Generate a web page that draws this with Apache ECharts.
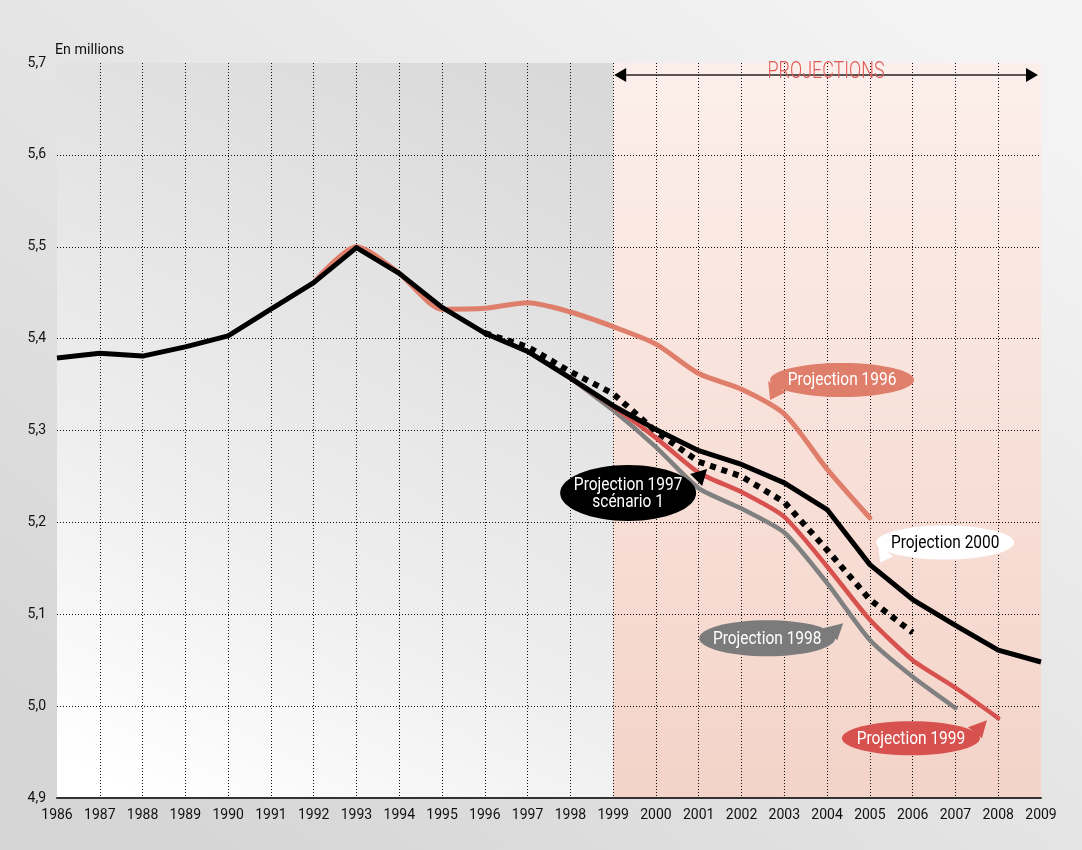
<!DOCTYPE html>
<html><head><meta charset="utf-8">
<script src="https://cdn.jsdelivr.net/npm/echarts/dist/echarts.min.js"></script>
<style>html,body{margin:0;padding:0;background:#e4e4e4}#c{width:1082px;height:850px}</style>
</head><body><div id="c"></div>
<script>
const years = [1986,1987,1988,1989,1990,1991,1992,1993,1994,1995,1996,1997,1998,1999,2000,2001,2002,2003,2004,2005,2006,2007,2008,2009];
// Observed + Projection 2000
const proj2000 = [5.379,5.384,5.381,5.391,5.403,5.432,5.461,5.499,5.471,5.434,5.406,5.386,5.357,5.327,5.301,5.278,5.263,5.243,5.214,5.154,5.116,5.088,5.061,5.048];
const proj1996 = [null,null,null,null,null,null,5.461,5.500,5.471,5.432,5.433,5.439,5.429,5.413,5.394,5.362,5.345,5.318,5.258,5.205,null,null,null,null];
const proj1997 = [null,null,null,null,null,null,null,null,null,null,5.406,5.391,5.364,5.340,5.299,5.266,5.250,5.222,5.170,5.116,5.080,null,null,null];
const proj1998 = [null,null,null,null,null,null,null,null,null,null,null,null,5.357,5.322,5.282,5.237,5.215,5.189,5.134,5.072,5.032,4.998,null,null];
const proj1999 = [null,null,null,null,null,null,null,null,null,null,null,null,5.357,5.326,5.292,5.254,5.233,5.206,5.152,5.094,5.050,5.020,4.987,null];
const yMin = 4.9, yMax = 5.7, projStart = 1999;

const FONT = 'Roboto,"Liberation Sans",sans-serif';
const pairs = arr => years.map((y,i)=>[y,arr[i]]).filter(p=>p[1]!==null);

const chart = echarts.init(document.getElementById('c'));
const dotted = {type:[1,2], color:'#111', width:1};
chart.setOption({
  animation:false,
  backgroundColor:new echarts.graphic.LinearGradient(0.2,1,0.8,0,[{offset:0,color:'#d6d6d6'},{offset:1,color:'#f3f3f3'}]),
  grid:{left:57,right:41,top:63,bottom:52},
  xAxis:{type:'value',min:1986,max:2009,interval:1,z:3,
    axisLine:{show:true,lineStyle:{color:'#333',width:2}},axisTick:{show:false},
    axisLabel:{color:'#111',fontFamily:FONT,fontSize:14,margin:10,formatter:v=>String(v)},
    splitLine:{show:true,showMinLine:false,showMaxLine:false,lineStyle:dotted}},
  yAxis:{type:'value',min:yMin,max:yMax,interval:0.1,z:3,
    axisLine:{show:false},axisTick:{show:false},
    axisLabel:{color:'#111',fontFamily:FONT,fontSize:14,margin:11,padding:[0,0,10,0],formatter:v=>v.toFixed(1).replace('.',',')},
    splitLine:{show:true,showMinLine:false,showMaxLine:false,lineStyle:dotted}},
  series:[
    {type:'line',data:[],silent:true,z:1,
      markArea:{silent:true,data:[
        [{xAxis:1986,itemStyle:{color:new echarts.graphic.LinearGradient(0.15,1,0.85,0,[{offset:0,color:'#ffffff'},{offset:0.35,color:'#eeeeee'},{offset:1,color:'#d9d9d9'}])}},{xAxis:projStart}],
        [{xAxis:projStart,itemStyle:{color:new echarts.graphic.LinearGradient(0,0,0,1,[{offset:0,color:'#fcefeb'},{offset:1,color:'#f4d3c8'}])}},{xAxis:2009}]
      ]}},
    {name:'Projection 1996',type:'line',data:pairs(proj1996),symbol:'none',smooth:0.25,lineStyle:{color:'#e07e6c',width:5,cap:'round'},z:10},
    {name:'Projection 1998',type:'line',data:pairs(proj1998),symbol:'none',smooth:0.2,lineStyle:{color:'#808080',width:4.5,cap:'round'},z:11},
    {name:'Projection 1999',type:'line',data:pairs(proj1999),symbol:'none',smooth:0.2,lineStyle:{color:'#d7514f',width:4.5,cap:'round'},z:12},
    {name:'Projection 1997 scénario 1',type:'line',data:pairs(proj1997),symbol:'none',lineStyle:{color:'#000',width:6,type:[6,6]},z:13},
    {name:'Projection 2000',type:'line',data:pairs(proj2000),symbol:'none',lineStyle:{color:'#000',width:5,join:'round'},z:14}
  ]
});

const px = (x,y)=>chart.convertToPixel({gridIndex:0},[x,y]);
const bubbles = [
  {text:'Projection 1996',c:[2004.35,5.355],rx:72,ry:17,fill:'#e07e6c',color:'#fff',tail:[[-72,20],[-74,1],[-56,12]]},
  {text:'Projection 1997\nscénario 1',c:[1999.35,5.232],rx:68,ry:28,fill:'#000',color:'#fff',tail:[[79,-24],[62,-19],[74,-7]]},
  {text:'Projection 2000',c:[2006.76,5.178],rx:69,ry:17,fill:'#fff',color:'#000',tail:[[-65,20],[-67,2],[-52,14]]},
  {text:'Projection 1998',c:[2002.6,5.074],rx:68,ry:18,fill:'#7b7b7b',color:'#fff',tail:[[76,-15],[56,-10],[70,2]]},
  {text:'Projection 1999',c:[2005.96,4.965],rx:69,ry:17,fill:'#d7514f',color:'#fff',tail:[[76,-18],[57,-11],[71,0]]}
];
const g = [];
bubbles.forEach(b=>{
  const p = px(b.c[0],b.c[1]);
  g.push({type:'polygon',z:20,shape:{points:b.tail.map(t=>[p[0]+t[0],p[1]+t[1]])},style:{fill:b.fill}});
  g.push({type:'ellipse',z:20,shape:{cx:p[0],cy:p[1],rx:b.rx,ry:b.ry},style:{fill:b.fill}});
  g.push({type:'text',z:21,x:p[0],y:p[1]+1,scaleX:0.86,style:{text:b.text,fill:b.color,font:'18px '+FONT,align:'center',verticalAlign:'middle',lineHeight:17}});
});
// Projections arrow
const a = px(projStart,5.687), bpt = px(2009,5.687);
const l = a[0]+1, r = bpt[0]-3, yy = a[1];
g.push({type:'line',z:20,shape:{x1:l+8,y1:yy,x2:r-8,y2:yy},style:{stroke:'#222',lineWidth:1.5}});
g.push({type:'polygon',z:20,shape:{points:[[l,yy],[l+12,yy-7],[l+12,yy+7]]},style:{fill:'#000'}});
g.push({type:'polygon',z:20,shape:{points:[[r,yy],[r-12,yy-7],[r-12,yy+7]]},style:{fill:'#000'}});
g.push({type:'text',z:21,x:(l+r)/2,y:yy-3,scaleX:0.78,style:{text:'PROJECTIONS',fill:'#e05a55',font:'300 23px '+FONT,align:'center',verticalAlign:'middle'}});
g.push({type:'text',z:21,x:55,y:50,scaleX:0.95,style:{text:'En millions',fill:'#111',font:'15px '+FONT,align:'left',verticalAlign:'middle'}});
chart.setOption({graphic:g});
</script></body></html>
